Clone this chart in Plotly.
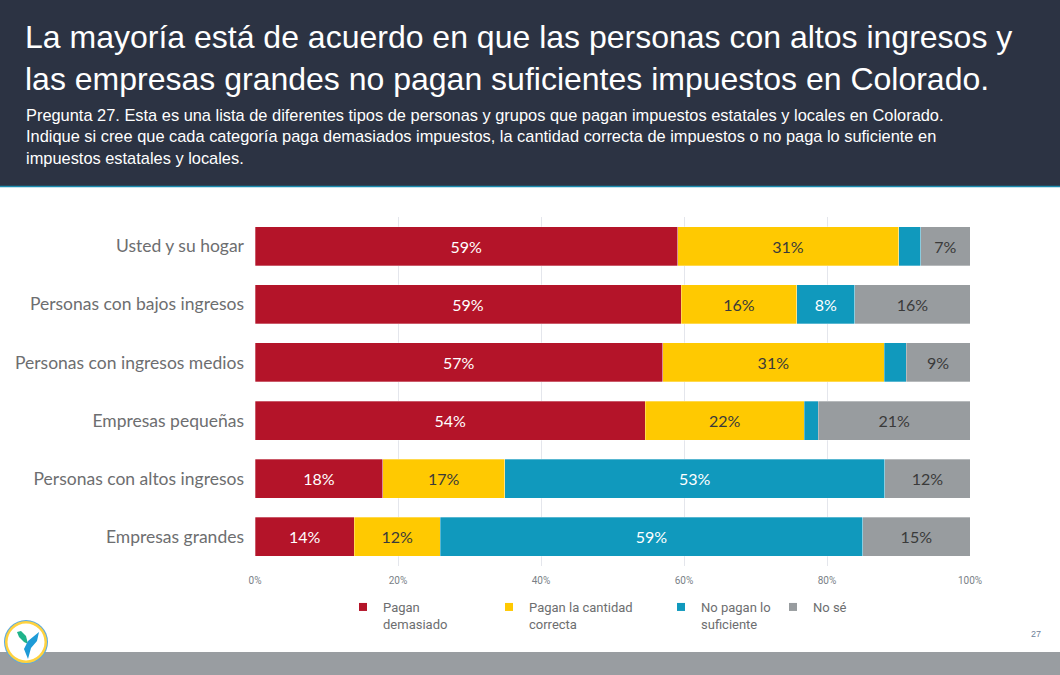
import plotly.graph_objects as go

categories = ["Usted y su hogar", "Personas con bajos ingresos", "Personas con ingresos medios",
              "Empresas pequeñas", "Personas con altos ingresos", "Empresas grandes"]
series_names = ["Pagan<br>demasiado", "Pagan la cantidad<br>correcta", "No pagan lo<br>suficiente", "No sé"]
pagan_demasiado = [59.1, 59.6, 57.0, 54.6, 17.9, 13.9]
pagan_correcta = [30.9, 16.2, 31.0, 22.2, 17.0, 12.0]
no_pagan_suficiente = [3.1, 8.1, 3.1, 2.0, 53.2, 59.1]
no_se = [6.9, 16.1, 8.9, 21.2, 11.9, 15.0]
label_demasiado = ["59%", "59%", "57%", "54%", "18%", "14%"]
label_correcta = ["31%", "16%", "31%", "22%", "17%", "12%"]
label_suficiente = ["", "8%", "", "", "53%", "59%"]
label_nose = ["7%", "16%", "9%", "21%", "12%", "15%"]
x_ticks = [0, 20, 40, 60, 80, 100]
x_tick_labels = ["0%", "20%", "40%", "60%", "80%", "100%"]

colors = ["#B41429", "#FFC901", "#1099BD", "#989C9F"]
text_colors = ["#FFFFFF", "#3A3A3A", "#FFFFFF", "#3A3A3A"]

W, H = 1060, 675
L, R, T, B = 255, 90, 217, 109
PW, PH = W - L - R, H - T - B


def px(x):
    return (x - L) / PW


def py(y):
    return (H - B - y) / PH


fig = go.Figure()
vals = [pagan_demasiado, pagan_correcta, no_pagan_suficiente, no_se]
labs = [label_demasiado, label_correcta, label_suficiente, label_nose]
for i in range(4):
    fig.add_trace(go.Bar(
        y=categories, x=vals[i], orientation="h", name=series_names[i],
        marker=dict(color=colors[i], line=dict(color="rgba(255,255,255,0.5)", width=0.6)),
        text=labs[i], textposition="inside", insidetextanchor="middle", textangle=0,
        textfont=dict(family="Lato", size=16, color=text_colors[i]),
        hoverinfo="x+name", showlegend=False,
    ))

legend_x = [383, 529, 701, 813]
legend_names = ["legend", "legend2", "legend3", "legend4"]
for i in range(4):
    fig.add_trace(go.Scatter(
        x=[None], y=[None], mode="markers", name=series_names[i],
        marker=dict(symbol="square", size=8, color=colors[i]),
        legend=legend_names[i], showlegend=True,
    ))

legend_common = dict(orientation="h", xanchor="left", yanchor="top", valign="top",
                     font=dict(family="Roboto", size=13, color="#6D6E70"),
                     bgcolor="rgba(0,0,0,0)", itemwidth=30)
layout_legends = {}
for i in range(4):
    layout_legends[legend_names[i]] = dict(legend_common, x=px(legend_x[i] - 40), y=py(592))

shapes = [
    dict(type="rect", xref="paper", yref="paper", x0=px(0), x1=px(W), y0=py(0), y1=py(186),
         fillcolor="#2C3343", line=dict(width=0), layer="below"),
    dict(type="line", xref="paper", yref="paper", x0=px(0), x1=px(W), y0=py(186.5), y1=py(186.5),
         line=dict(color="#1B8BAE", width=1.5)),
    dict(type="rect", xref="paper", yref="paper", x0=px(0), x1=px(W), y0=py(652), y1=py(H),
         fillcolor="#999DA1", line=dict(width=0), layer="below"),
    # logo
    dict(type="circle", xref="paper", yref="paper", x0=px(4), x1=px(48), y0=py(620), y1=py(664),
         fillcolor="#5AA9E0", line=dict(width=0)),
    dict(type="circle", xref="paper", yref="paper", x0=px(5), x1=px(47), y0=py(621), y1=py(663),
         fillcolor="#FFD23F", line=dict(width=0)),
    dict(type="circle", xref="paper", yref="paper", x0=px(7.5), x1=px(44.5), y0=py(623.5), y1=py(660.5),
         fillcolor="#FFFFFF", line=dict(width=0)),
]


def path(points):
    s = "M " + " L ".join(f"{px(a):.5f},{py(b):.5f}" for a, b in points) + " Z"
    return s


shapes.append(dict(type="path", xref="paper", yref="paper",
                   path=path([(17, 632), (21, 631), (26, 636), (28, 644), (24, 642), (19, 637)]),
                   fillcolor="#1FB38A", line=dict(width=0)))
shapes.append(dict(type="path", xref="paper", yref="paper",
                   path=path([(39, 632), (37, 641), (31, 648), (28, 659), (24, 649), (28, 641)]),
                   fillcolor="#1E9BD7", line=dict(width=0)))

annotations = [
    dict(xref="paper", yref="paper", x=px(23), y=py(17), xanchor="left", yanchor="top",
         text="La mayoría está de acuerdo en que las personas con altos ingresos y<br>las empresas grandes no pagan suficientes impuestos en Colorado.",
         showarrow=False, align="left",
         font=dict(family="Liberation Sans", size=32, color="#FFFFFF")),
    dict(xref="paper", yref="paper", x=px(24), y=py(104), xanchor="left", yanchor="top",
         text="Pregunta 27. Esta es una lista de diferentes tipos de personas y grupos que pagan impuestos estatales y locales en Colorado.<br>Indique si cree que cada categoría paga demasiados impuestos, la cantidad correcta de impuestos o no paga lo suficiente en<br>impuestos estatales y locales.",
         showarrow=False, align="left",
         font=dict(family="Liberation Sans", size=16.4, color="#FFFFFF")),
    dict(xref="paper", yref="paper", x=px(1036), y=py(634), xanchor="center", yanchor="middle",
         text="27", showarrow=False, font=dict(family="Liberation Sans", size=9, color="#6F7F9A")),
]

fig.update_layout(
    width=W, height=H, margin=dict(l=L, r=R, t=T, b=B, pad=0),
    paper_bgcolor="#FFFFFF", plot_bgcolor="#FFFFFF",
    barmode="stack", bargap=0.33,
    xaxis=dict(range=[0, 100], tickvals=x_ticks, ticktext=x_tick_labels, showgrid=True,
               gridcolor="#E4E6EC", gridwidth=1, zeroline=False, showline=False,
               ticklabelstandoff=7,
               tickfont=dict(family="Roboto", size=10, color="#7A7F87"), fixedrange=True),
    yaxis=dict(autorange="reversed", showgrid=False, zeroline=False, showline=False,
               ticklabelstandoff=10,
               tickfont=dict(family="Lato", size=17.5, color="#6D6E70"), fixedrange=True),
    shapes=shapes, annotations=annotations,
    **layout_legends,
)

fig.write_html("out.html")
